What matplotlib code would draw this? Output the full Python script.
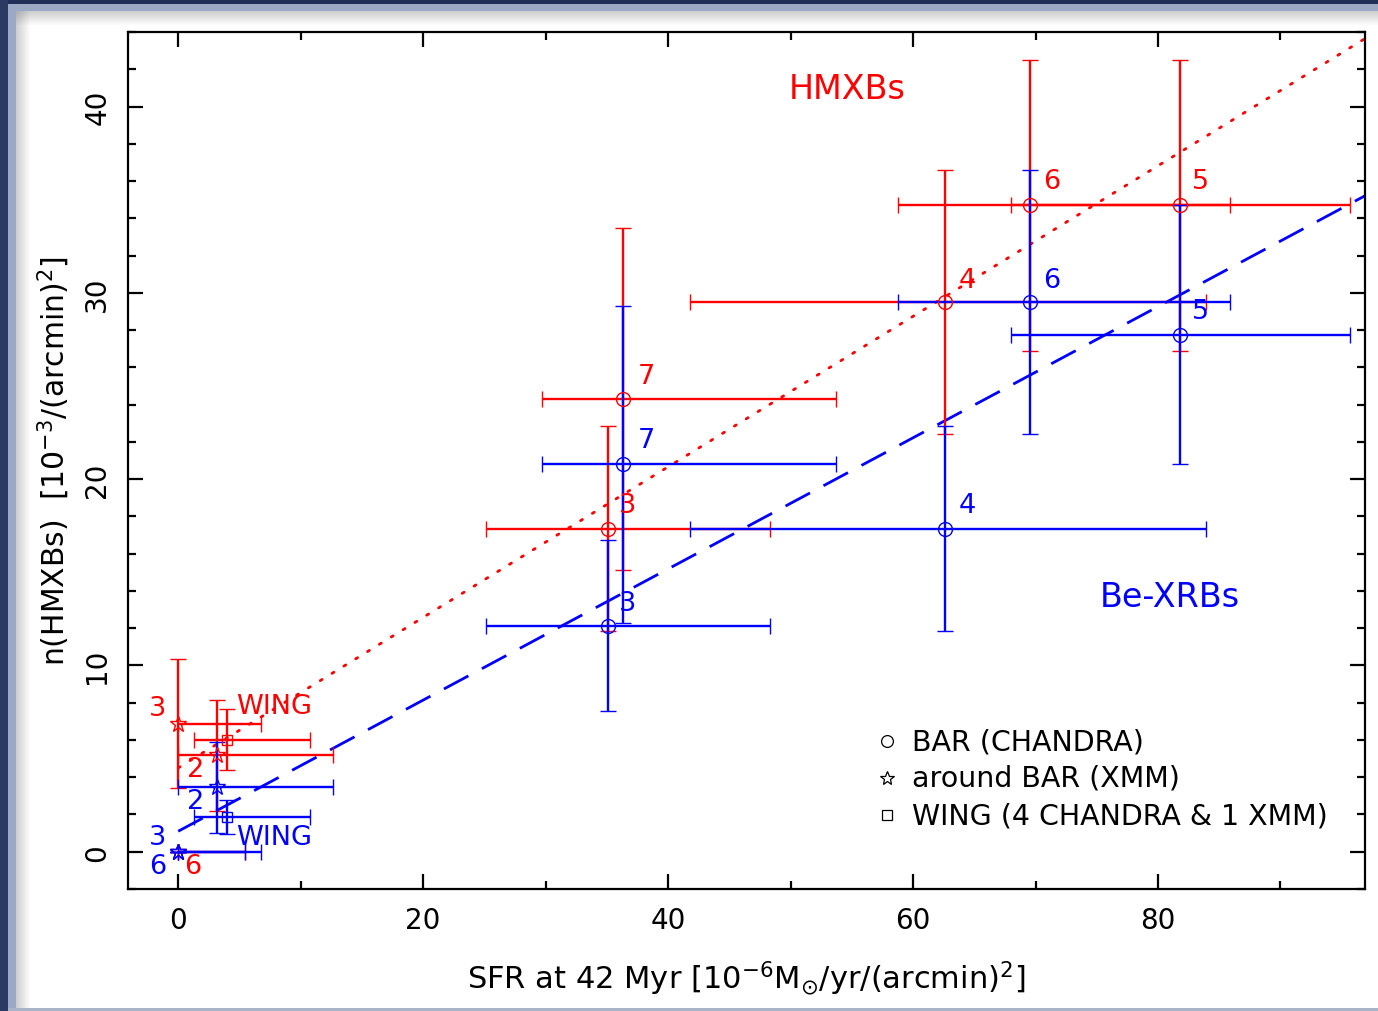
import matplotlib
matplotlib.use("Agg")
import matplotlib.pyplot as plt
from matplotlib.patches import Rectangle
from matplotlib.ticker import MultipleLocator
import numpy as np

# ---------------- data ----------------
# BAR (CHANDRA) regions
bar_labels = ["3", "7", "4", "6", "5"]
bar_sfr = [35.1, 36.3, 62.6, 69.55, 81.8]
bar_sfr_lo = [25.1, 29.7, 41.8, 58.8, 68.0]
bar_sfr_hi = [48.3, 53.7, 83.9, 85.9, 95.7]
bar_hmxb = [17.35, 24.3, 29.5, 34.7, 34.7]
bar_hmxb_err = [5.5, 9.2, 7.1, 7.8, 7.8]
bar_bexrb = [12.13, 20.8, 17.35, 29.5, 27.75]
bar_bexrb_err = [4.6, 8.5, 5.5, 7.1, 6.95]

# around BAR (XMM) regions
xmm_labels = ["3", "2", "6"]
xmm_sfr = [0.0, 3.13, 0.0]
xmm_sfr_lo = [0.0, 0.0, 0.0]
xmm_sfr_hi = [6.8, 12.65, 5.44]
xmm_hmxb = [6.87, 5.17, 0.0]
xmm_hmxb_err = [3.45, 3.0, 0.0]
xmm_bexrb = [0.0, 3.46, 0.0]
xmm_bexrb_err = [0.0, 2.45, 0.0]

# WING
wing_sfr = [4.0]
wing_sfr_lo = [1.28]
wing_sfr_hi = [10.8]
wing_hmxb = [6.02]
wing_hmxb_err = [1.65]
wing_bexrb = [1.86]
wing_bexrb_err = [0.9]

# linear fits (intercept, slope)
fit_hmxb = (4.5, 0.404)
fit_bexrb = (1.1, 0.352)

RED = "#ff0000"
BLUE = "#0000ff"

W, H = 1378, 1012
fig = plt.figure(figsize=(W / 100, H / 100), dpi=100)
fig.patch.set_facecolor("white")

# screenshot frame
def px_rect(x0, y0, w, h, color, alpha=1.0):
    fig.patches.append(Rectangle((x0 / W, 1 - (y0 + h) / H), w / W, h / H,
                                 transform=fig.transFigure, color=color,
                                 alpha=alpha, zorder=-10, lw=0))

for i in range(14):
    a = 0.30 * (1 - i / 14)
    px_rect(16 + i, 12, 1, H - 12, "#606060", a)
    px_rect(16, 12 + i, W - 16, 1, "#606060", a)
px_rect(0, 5, 16, 7, "#9ba9c5")
px_rect(8, 5, 8, H - 5, "#9ba9c5")
px_rect(0, 5, W, 7, "#9ba9c5")
px_rect(0, 0, W, 5, "#1f2f57")
px_rect(0, 0, 8, H, "#2a3a62")
px_rect(8, H - 3, W - 8, 3, "#a9b4c8")

ax = fig.add_axes([128 / W, 1 - 890 / H, (1365 - 128) / W, (890 - 33) / H])
ax.set_xlim(-4.1, 96.9)
ax.set_ylim(-2.0, 44.0)

# fit lines
xx = np.array([0.0, 100.0])
ax.plot(xx, fit_hmxb[0] + fit_hmxb[1] * xx, color=RED, lw=2.0,
        linestyle=(0, (0.8, 4.2)), dash_capstyle="round", zorder=2)
ax.plot(xx, fit_bexrb[0] + fit_bexrb[1] * xx, color=BLUE, lw=2.0,
        linestyle=(0, (10, 5.5)), zorder=2)

ekw = dict(linestyle="none", elinewidth=1.7, capsize=5.5, capthick=1.7,
           mfc="none", mew=1.0)

def eb(x, lo, hi, y, yerr, marker, ms, color):
    x = np.array(x); lo = np.array(lo); hi = np.array(hi)
    ax.errorbar(x, y, xerr=[x - lo, hi - x], yerr=yerr, fmt=marker, ms=ms,
                color=color, mec=color, zorder=3, **ekw)

# red (HMXBs)
eb(xmm_sfr, xmm_sfr_lo, xmm_sfr_hi, xmm_hmxb, xmm_hmxb_err, "*", 12, RED)
eb(wing_sfr, wing_sfr_lo, wing_sfr_hi, wing_hmxb, wing_hmxb_err, "s", 7.5, RED)
eb(bar_sfr, bar_sfr_lo, bar_sfr_hi, bar_hmxb, bar_hmxb_err, "o", 10, RED)
# blue (Be-XRBs)
eb(xmm_sfr, xmm_sfr_lo, xmm_sfr_hi, xmm_bexrb, xmm_bexrb_err, "*", 12, BLUE)
eb(wing_sfr, wing_sfr_lo, wing_sfr_hi, wing_bexrb, wing_bexrb_err, "s", 7.5, BLUE)
eb(bar_sfr, bar_sfr_lo, bar_sfr_hi, bar_bexrb, bar_bexrb_err, "o", 10, BLUE)

# point labels
fs_lab = 19.5
red_labels = [("3", -1.7, 7.7), ("2", 1.4, 4.45), ("WING", 7.8, 7.8), ("6", 1.2, -0.75),
              ("3", 36.7, 18.6), ("7", 38.2, 25.55), ("4", 64.4, 30.7),
              ("6", 71.3, 36.0), ("5", 83.5, 36.0)]
blue_labels = [("3", -1.7, 0.8), ("6", -1.7, -0.75), ("2", 1.4, 2.74), ("WING", 7.8, 0.8),
               ("3", 36.7, 13.37), ("7", 38.2, 22.1), ("4", 64.4, 18.6),
               ("6", 71.3, 30.7), ("5", 83.5, 29.0)]
for t, x, y in red_labels:
    ax.text(x, y, t, color=RED, fontsize=fs_lab, ha="center", va="center", zorder=4)
for t, x, y in blue_labels:
    ax.text(x, y, t, color=BLUE, fontsize=fs_lab, ha="center", va="center", zorder=4)

ax.text(54.6, 40.95, "HMXBs", color=RED, fontsize=24, ha="center", va="center")
ax.text(81.0, 13.7, "Be-XRBs", color=BLUE, fontsize=24, ha="center", va="center")

# legend (manual)
leg = [("o", 8.5, "BAR (CHANDRA)"), ("*", 10.5, "around BAR (XMM)"),
       ("s", 6.5, "WING (4 CHANDRA & 1 XMM)")]
for i, (m, ms, t) in enumerate(leg):
    yy = 1 - (742 + 37 * i - 33) / 857
    ax.plot([(887 - 128) / 1237], [yy], marker=m, ms=ms, mfc="none", mec="black",
            mew=0.9, transform=ax.transAxes, linestyle="none")
    ax.text((912 - 128) / 1237, yy, t, fontsize=20.5, ha="left", va="center",
            transform=ax.transAxes)

# axes styling
for s in ax.spines.values():
    s.set_linewidth(1.6)
ax.xaxis.set_major_locator(MultipleLocator(20))
ax.xaxis.set_minor_locator(MultipleLocator(10))
ax.yaxis.set_major_locator(MultipleLocator(10))
ax.yaxis.set_minor_locator(MultipleLocator(2))
ax.tick_params(which="both", direction="in", top=True, right=True, width=1.6)
ax.tick_params(which="major", length=11)
ax.tick_params(which="minor", length=6)
ax.tick_params(axis="x", which="major", labelsize=20, pad=12)
ax.tick_params(axis="y", which="major", labelsize=20, pad=12)
for lab in ax.get_yticklabels():
    lab.set_rotation(90)
    lab.set_va("center")

ax.set_xlabel(r"SFR at 42 Myr [10$^{-6}$M$_{\odot}$/yr/(arcmin)$^{2}$]",
              fontsize=22, labelpad=18)
ax.set_ylabel(r"n(HMXBs)  [10$^{-3}$/(arcmin)$^{2}$]", fontsize=21.5, labelpad=8)

fig.savefig("out.png", dpi=100)
